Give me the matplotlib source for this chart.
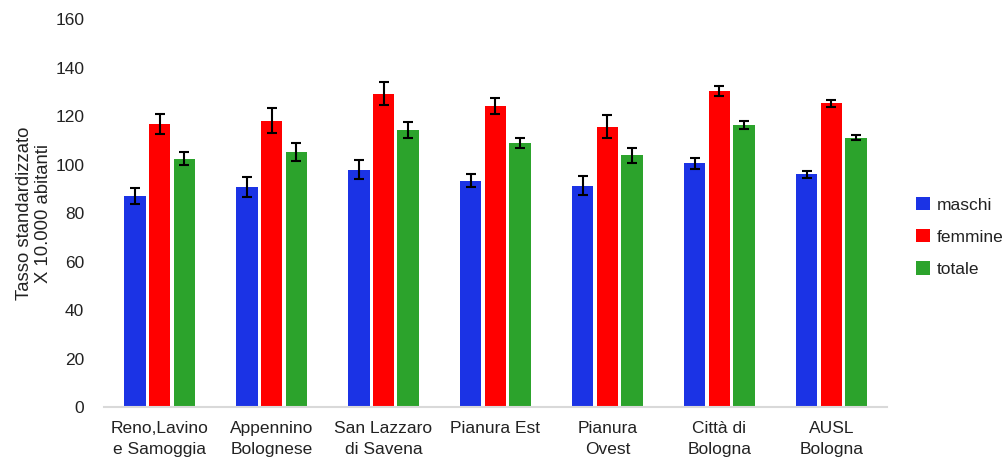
import matplotlib
matplotlib.use("Agg")
import matplotlib.pyplot as plt
import numpy as np

plt.rcParams['font.family'] = ['Liberation Sans', 'DejaVu Sans']

categories = ["Reno,Lavino\ne Samoggia", "Appennino\nBolognese", "San Lazzaro\ndi Savena",
              "Pianura Est", "Pianura\nOvest", "Città di\nBologna", "AUSL\nBologna"]
maschi = [86.9, 90.8, 98.0, 93.4, 91.4, 100.5, 96.0]
maschi_err = [3.3, 4.2, 4.0, 2.7, 4.0, 2.1, 1.4]
femmine = [116.9, 118.2, 129.3, 124.1, 115.6, 130.5, 125.3]
femmine_err = [4.1, 5.3, 4.9, 3.3, 4.7, 2.1, 1.5]
totale = [102.5, 105.2, 114.2, 109.0, 103.8, 116.3, 111.1]
totale_err = [2.7, 3.6, 3.4, 2.1, 3.0, 1.5, 1.1]

series = [("maschi", maschi, maschi_err, "#1b33e5"),
          ("femmine", femmine, femmine_err, "#ff0000"),
          ("totale", totale, totale_err, "#2ca32c")]

fig = plt.figure(figsize=(10.06, 4.66), dpi=100)
ax = fig.add_axes([0.103, 0.126, 0.779, 0.833])

x = np.arange(len(categories))
width = 0.19
offsets = [-0.22, 0.0, 0.22]
for (name, vals, errs, col), off in zip(series, offsets):
    ax.bar(x + off, vals, width, color=col, label=name,
           yerr=errs, error_kw=dict(ecolor="black", elinewidth=1.5, capsize=3.4, capthick=1.5))

ax.set_xlim(-0.5, len(categories) - 0.5)
ax.set_ylim(0, 160)
ax.set_yticks(range(0, 161, 20))
ax.set_xticks(x)
ax.set_xticklabels(categories, fontsize=12.5, color="#222222", linespacing=1.45)
ax.tick_params(axis="both", length=0, labelsize=12.5, labelcolor="#222222")
ax.tick_params(axis="x", pad=10)
ax.tick_params(axis="y", pad=14)
for s in ["top", "right", "left"]:
    ax.spines[s].set_visible(False)
ax.spines["bottom"].set_color("#d9d9d9")
ax.spines["bottom"].set_linewidth(1.5)

ax.set_ylabel("Tasso standardizzato\nX 10.000 abitanti", fontsize=13.3, color="#222222",
              linespacing=1.1)
ax.yaxis.set_label_coords(-0.0665, 0.5)

leg = fig.legend(loc="center left", bbox_to_anchor=(0.9105, 1 - 237 / 466),
                 bbox_transform=fig.transFigure, frameon=False, borderpad=0,
                 borderaxespad=0, fontsize=12.5, handlelength=0.8, handleheight=0.8,
                 handletextpad=0.4, labelspacing=0.95)
for t in leg.get_texts():
    t.set_color("#222222")

fig.savefig("out.png", dpi=100)
